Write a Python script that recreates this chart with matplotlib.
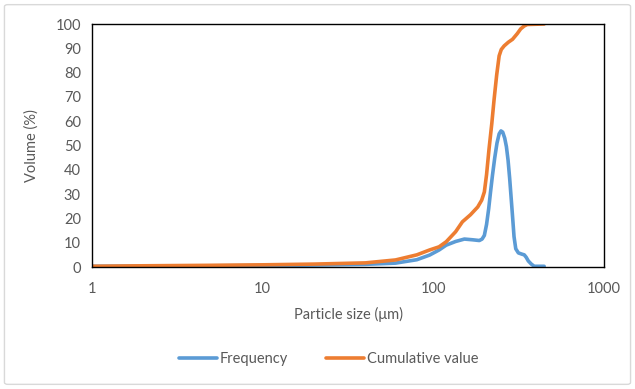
import matplotlib
matplotlib.use("Agg")
import matplotlib.pyplot as plt
from matplotlib.patches import FancyBboxPatch

# values
size_freq = [1, 2, 5, 10, 20, 40, 60, 80, 95, 108, 119, 135, 152, 170, 186, 193, 199,
             205, 211, 216, 222, 229, 236, 243, 249, 255, 262, 268, 274, 280, 286, 291,
             297, 304, 315, 330, 341, 350, 360, 375, 390, 446]
frequency = [0.3, 0.4, 0.5, 0.6, 0.8, 1.1, 1.6, 3.0, 4.9, 7.0, 9.0, 10.5, 11.5, 11.2, 10.9, 11.5, 13.0,
             17.5, 24.0, 30.5, 37.7, 45.0, 51.0, 54.8, 56.0, 55.5, 53.0, 49.5, 44.0, 36.5, 28.0, 21.0,
             12.5, 7.5, 5.8, 5.3, 5.0, 4.0, 2.5, 1.2, 0.3, 0.3]

size_cum = [1, 2, 5, 10, 20, 40, 60, 80, 95, 108, 119, 135, 148, 165, 182, 192, 199,
            205, 212, 220, 227, 235, 243, 250, 260, 275, 291, 310, 325, 341, 355, 446]
cumulative = [0.3, 0.5, 0.7, 0.9, 1.2, 1.7, 2.9, 5.0, 7.0, 8.3, 10.4, 14.5, 18.6, 21.5, 24.7, 27.5, 30.9,
              38.0, 48.6, 59.0, 69.0, 79.0, 86.9, 89.5, 91.0, 92.5, 93.7, 96.0, 98.0, 99.2, 99.8, 100.0]

x_ticks = [1, 10, 100, 1000]
y_ticks = list(range(0, 101, 10))

text_color = "#595959"
plt.rcParams["font.family"] = ["Lato", "DejaVu Sans"]

fig = plt.figure(figsize=(6.35, 3.89), dpi=100)
ax = fig.add_axes([0.1449, 0.3136, 0.8063, 0.6247])

ax.plot(size_freq, frequency, color="#5B9BD5", lw=2.6, label="Frequency",
        solid_capstyle="round", solid_joinstyle="round")
ax.plot(size_cum, cumulative, color="#ED7D31", lw=2.6, label="Cumulative value",
        solid_capstyle="round", solid_joinstyle="round")

ax.set_xscale("log")
ax.set_xlim(1, 1000)
ax.set_ylim(0, 100)
ax.set_xticks(x_ticks)
ax.set_xticklabels([str(t) for t in x_ticks])
ax.minorticks_off()
ax.set_yticks(y_ticks)
ax.tick_params(length=0, labelsize=10.5, colors=text_color, pad=8)
ax.tick_params(axis="x", pad=11)
for s in ax.spines.values():
    s.set_color("black")
    s.set_linewidth(1.0)

ax.set_xlabel("Particle size (\u03bcm)", fontsize=10.5, color=text_color, labelpad=8)
ax.set_ylabel("Volume (%)", fontsize=10.5, color=text_color, labelpad=12)

fig.legend(loc="center", bbox_to_anchor=(0.518, 0.078), ncol=2, frameon=False,
           fontsize=10.5, labelcolor=text_color, handlelength=2.6, handletextpad=0.2,
           columnspacing=2.6)

# light gray chart border
fig.patches.append(FancyBboxPatch((0.007, 0.012), 0.986, 0.976,
                                  boxstyle="round,pad=0,rounding_size=0.005",
                                  transform=fig.transFigure, fill=False,
                                  edgecolor="#D9D9D9", lw=1.0))

fig.savefig("out.png", dpi=100)
